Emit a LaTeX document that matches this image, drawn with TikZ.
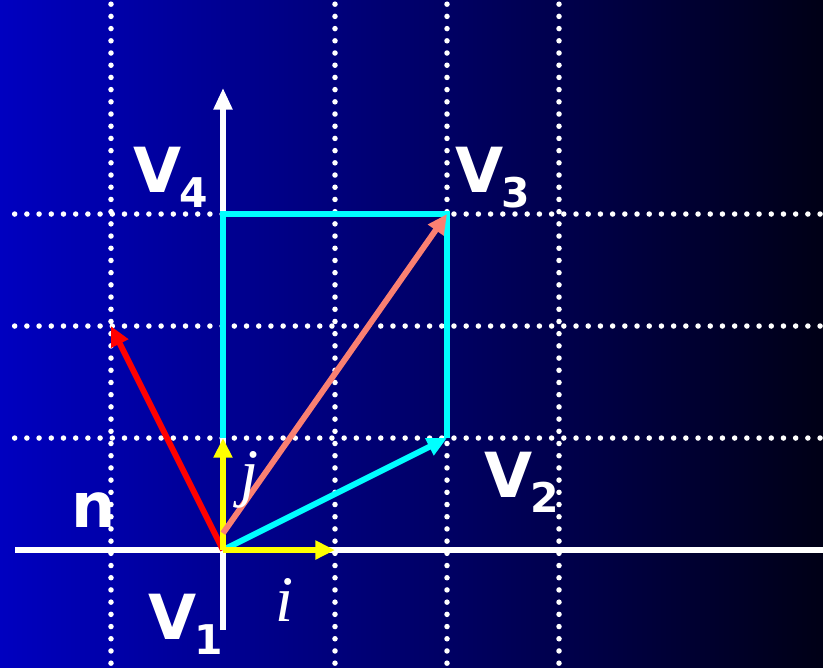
\documentclass[tikz,border=0pt]{standalone}
\usepackage{fontspec}
\setmainfont{DejaVu Sans}
\newfontfamily\vecfont{Liberation Serif}
\usepackage{tikz}
\usetikzlibrary{arrows.meta}
\definecolor{bgblue}{RGB}{0,0,192}
\definecolor{bgdark}{RGB}{0,0,22}
\definecolor{salmonv}{RGB}{250,128,114}
\definecolor{cyanv}{RGB}{0,255,255}
\definecolor{yellowv}{RGB}{255,255,0}
\newcommand{\vname}[1]{V\kern-0.5pt\raisebox{-3.8pt}{\fontsize{10.4}{10.4}\selectfont #1}}
\tikzset{
  grid/.style={white, line width=1.4pt, line cap=round, dash pattern=on 0pt off 3.1pt},
  axis/.style={white, line width=1.3pt},
  vec/.style={line width=1.5pt, -{Triangle[length=5pt,width=4.6pt]}},
  lbl/.style={text=white, font=\bfseries\fontsize{15.8}{15.8}\selectfont, inner sep=0pt, anchor=base west},
  unit/.style={text=white, font=\vecfont\itshape\fontsize{16.5}{16.5}\selectfont, inner sep=0pt}
}
\begin{document}
\begin{tikzpicture}
  \useasboundingbox (-1.991,-1.045) rectangle (5.357,4.911);
  \shade[left color=bgblue, right color=bgdark] (-1.991,-1.045) rectangle (5.357,4.911);
  % grid
  \foreach \x in {-1,1,2,3}
    \draw[grid] (\x,-1.01) -- (\x,4.89);
  \foreach \y in {1,2,3}
    \draw[grid] (-1.86,\y) -- (5.34,\y);
  % axes
  \coordinate (xs) at (-1.857,0);
  \coordinate (xe) at (5.357,0);
  \coordinate (ys) at (0,-0.714);
  \coordinate (ye) at (0,4.125);
  \draw[axis] (xs) -- (xe);
  \draw[axis, -{Triangle[length=5.5pt,width=4.6pt]}] (ys) -- (ye);
  % vertices
  \coordinate (V1) at (0,0);
  \coordinate (V2) at (2,1);
  \coordinate (V3) at (2,3);
  \coordinate (V4) at (0,3);
  \coordinate (N) at (-1,2);
  \coordinate (I) at (1,0);
  \coordinate (J) at (0,1);
  \coordinate (S) at (0,0.15);
  \draw[cyanv, line width=1.5pt] (J) -- (V4) -- (V3) -- (V2);
  \draw[vec, red] (V1) -- (N);
  \draw[vec, cyanv] (V1) -- (V2);
  \draw[vec, yellowv] (V1) -- (I);
  \draw[vec, yellowv] (V1) -- (J);
  \draw[vec, salmonv] (S) -- (V3);
  % labels
  \node[lbl] (l4) at (-0.81,3.19) {\vname{4}};
  \node[lbl] (l3) at (2.07,3.19) {\vname{3}};
  \node[lbl] (l2) at (2.33,0.47) {\vname{2}};
  \node[lbl] (l1) at (-0.67,-0.80) {\vname{1}};
  \node[lbl] (ln) at (-1.36,0.20) {n};
  \node[unit] (lj) at (0.24,0.63) {j};
  \node[unit] (li) at (0.55,-0.45) {i};
\end{tikzpicture}
\end{document}
